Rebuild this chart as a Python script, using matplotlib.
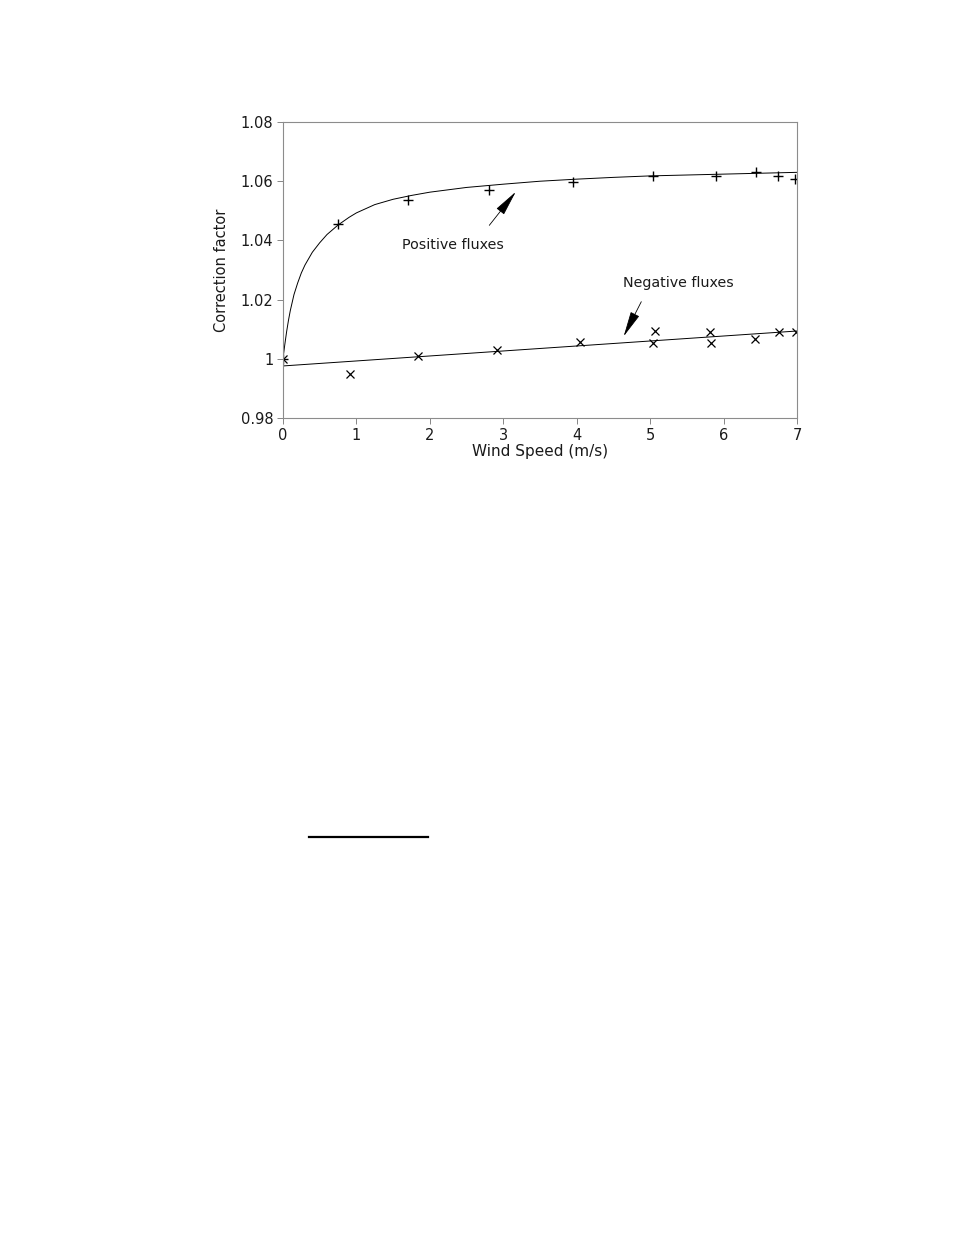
import matplotlib
matplotlib.use("Agg")
import matplotlib.pyplot as plt
from matplotlib.lines import Line2D

# measured points, positive fluxes (+)
pos_x = [0.0, 0.745, 1.70, 2.80, 3.95, 5.04, 5.90, 6.44, 6.74, 6.97]
pos_y = [1.0000, 1.0457, 1.0536, 1.0572, 1.0598, 1.0619, 1.0619, 1.0631, 1.0618, 1.0607]

# measured points, negative fluxes (x)
neg_x = [0.0, 0.91, 1.84, 2.91, 4.05, 5.04, 5.06, 5.81, 5.83, 6.43, 6.75, 6.98]
neg_y = [1.0000, 0.9949, 1.0010, 1.0029, 1.0058, 1.0053, 1.0094, 1.0090, 1.0054, 1.0067, 1.0091, 1.0091]

# fitted curve for positive fluxes
fit_pos_x = [0.0, 0.025, 0.05, 0.075, 0.1, 0.15, 0.2, 0.25, 0.3, 0.4, 0.5, 0.6, 0.75, 0.9,
             1.0, 1.25, 1.5, 1.75, 2.0, 2.5, 3.0, 3.5, 4.0, 4.5, 5.0, 5.5, 6.0, 6.5, 7.0]
fit_pos_y = [1.0000, 1.0048, 1.0092, 1.0130, 1.0163, 1.0217, 1.0256, 1.0290, 1.0317, 1.0360,
             1.0392, 1.0420, 1.0452, 1.0478, 1.0493, 1.0521, 1.0539, 1.0552, 1.0563, 1.0579,
             1.0590, 1.0600, 1.0607, 1.0613, 1.0618, 1.0621, 1.0624, 1.0627, 1.0630]

# fitted line for negative fluxes
fit_neg_x = [0.0, 7.0]
fit_neg_y = [0.9976, 1.0094]

x_ticks = [0, 1, 2, 3, 4, 5, 6, 7]
y_ticks = [0.98, 1.00, 1.02, 1.04, 1.06, 1.08]
y_labels = ["0.98", "1", "1.02", "1.04", "1.06", "1.08"]

plt.rcParams['font.family'] = ['DejaVu Sans']

fig = plt.figure(figsize=(9.54, 12.35), dpi=100)
ax = fig.add_axes([0.2966, 0.6615, 0.5388, 0.2397])

ax.plot(fit_pos_x, fit_pos_y, color='black', lw=0.7)
ax.plot(fit_neg_x, fit_neg_y, color='black', lw=0.7)
ax.plot(pos_x, pos_y, ls='none', marker='+', ms=7, mew=1.0, color='black')
ax.plot(neg_x, neg_y, ls='none', marker='x', ms=6, mew=0.9, color='black')

# labels and arrows
arrow = dict(arrowstyle='-|>,head_length=1.6,head_width=0.3',
             color='black', lw=0.6, shrinkA=0, shrinkB=0)
ax.text(2.32, 1.0383, "Positive fluxes", ha='center', va='center', fontsize=10.3, color='0.1')
ax.annotate("", xy=(3.17, 1.0564), xytext=(2.81, 1.0451), arrowprops=arrow)
ax.text(5.38, 1.0255, "Negative fluxes", ha='center', va='center', fontsize=10.3, color='0.1')
ax.annotate("", xy=(4.64, 1.0076), xytext=(4.88, 1.0193), arrowprops=arrow)

ax.set_xlim(0, 7)
ax.set_ylim(0.98, 1.08)
ax.set_xticks(x_ticks)
ax.set_yticks(y_ticks)
ax.set_yticklabels(y_labels)
ax.tick_params(direction='out', length=4, width=0.6, color='0.45',
               labelsize=10.5, pad=3, labelcolor='0.1')
for s in ax.spines.values():
    s.set_color('0.55')
    s.set_linewidth(0.8)

ax.set_xlabel("Wind Speed (m/s)", fontsize=11, labelpad=1, color='0.1')
ax.set_ylabel("Correction factor", fontsize=10.5, labelpad=8, color='0.1')

# footnote rule lower on the page
fig.add_artist(Line2D([0.3239, 0.4486], [0.3223, 0.3223], color='black', lw=1.6))

fig.savefig("out.png", dpi=100)
